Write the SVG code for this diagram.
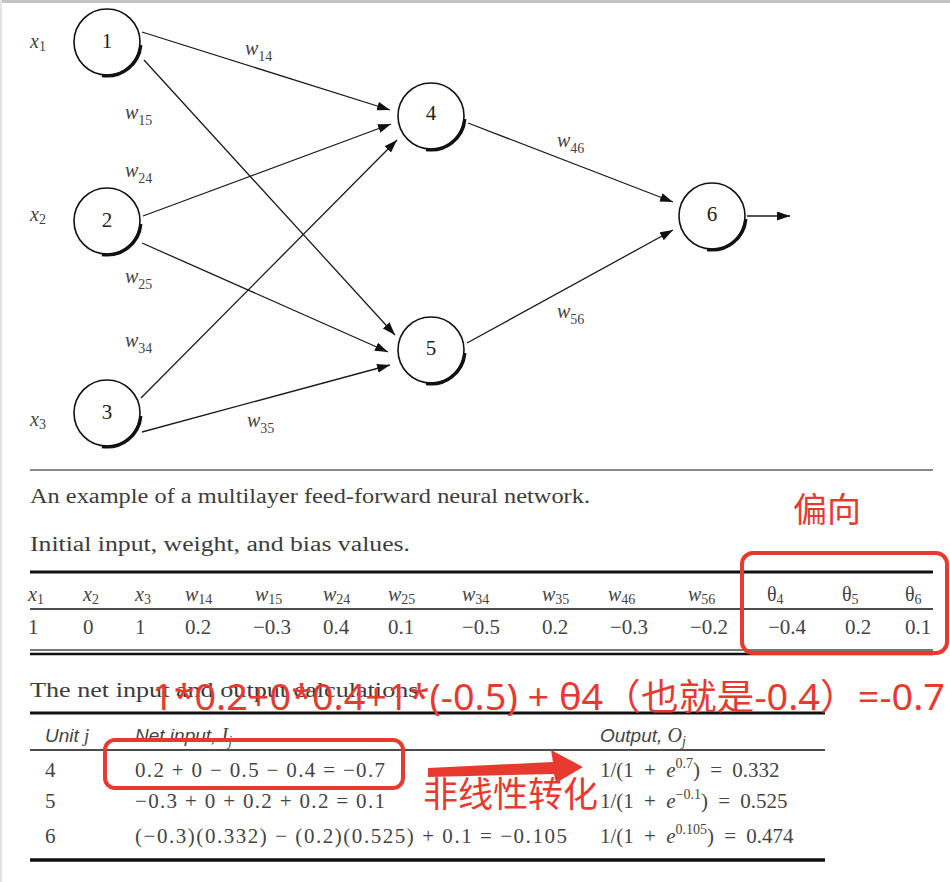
<svg xmlns="http://www.w3.org/2000/svg" width="950" height="882" viewBox="0 0 950 882">
<style>
.lbl{font-family:"Liberation Serif",serif;fill:#444;font-size:20px}
.it{font-style:italic}
.sub{font-size:14px}
.num{font-family:"Liberation Serif",serif;fill:#222;font-size:21px;text-anchor:middle}
.edge{stroke:#1a1a1a;stroke-width:1.3;fill:none}
.cap{font-family:"Liberation Serif",serif;fill:#3c3c3c;font-size:20px}
.tv{font-family:"Liberation Serif",serif;fill:#444;font-size:21px}
.hd{font-family:"Liberation Sans",sans-serif;font-style:italic;fill:#444;font-size:19px}
.red{fill:#e8392f;font-family:"Noto Sans","Noto Sans CJK SC",sans-serif}
.redbox{fill:none;stroke:#e8392f;stroke-width:4}
</style>
<defs>
<marker id="ah" markerUnits="userSpaceOnUse" markerWidth="13" markerHeight="9" refX="13" refY="4.5" orient="auto">
<path d="M0,0 L13,4.5 L0,9 z" fill="#111"/>
</marker>
<g id="ns">
<circle r="33" fill="#fff" stroke="#111" stroke-width="1.6"/>
<path d="M33.9,3 A34 34 0 0 1 -5,33.6" fill="none" stroke="#111" stroke-width="3.2"/>
</g>
</defs>
<rect width="950" height="882" fill="#fff"/>
<rect x="0" y="0" width="950" height="3" fill="#c4c4c4"/>
<rect x="0" y="0" width="2" height="882" fill="#e4e4e4"/>

<g id="connectors">
<line class="edge" x1="142" y1="32" x2="390" y2="110" marker-end="url(#ah)"/>
<line class="edge" x1="144" y1="60" x2="395" y2="335" marker-end="url(#ah)"/>
<line class="edge" x1="143" y1="216" x2="391" y2="124" marker-end="url(#ah)"/>
<line class="edge" x1="142" y1="243" x2="388" y2="352" marker-end="url(#ah)"/>
<line class="edge" x1="141" y1="398" x2="397" y2="140" marker-end="url(#ah)"/>
<line class="edge" x1="142" y1="432" x2="390" y2="365" marker-end="url(#ah)"/>
<line class="edge" x1="468" y1="123" x2="673" y2="202" marker-end="url(#ah)"/>
<line class="edge" x1="467" y1="343" x2="673" y2="230" marker-end="url(#ah)"/>
<line class="edge" x1="747" y1="216" x2="790" y2="216" marker-end="url(#ah)"/>
</g>

<g id="node1"><use href="#ns" transform="translate(107,42)"/><text class="num" x="107" y="48">1</text></g>
<g id="node2"><use href="#ns" transform="translate(107,221)"/><text class="num" x="107" y="227">2</text></g>
<g id="node3"><use href="#ns" transform="translate(107,413)"/><text class="num" x="107" y="419">3</text></g>
<g id="node4"><use href="#ns" transform="translate(431,116)"/><text class="num" x="431" y="120">4</text></g>
<g id="node5"><use href="#ns" transform="translate(431,350)"/><text class="num" x="431" y="355">5</text></g>
<g id="node6"><use href="#ns" transform="translate(712,216)"/><text class="num" x="712" y="221">6</text></g>

<g id="labels">
<text class="lbl" x="30" y="48"><tspan class="it">x</tspan><tspan class="sub" dy="3">1</tspan></text>
<text class="lbl" x="30" y="221"><tspan class="it">x</tspan><tspan class="sub" dy="3">2</tspan></text>
<text class="lbl" x="30" y="426"><tspan class="it">x</tspan><tspan class="sub" dy="3">3</tspan></text>
<text class="lbl" x="245" y="55"><tspan class="it">w</tspan><tspan class="sub" dy="6">14</tspan></text>
<text class="lbl" x="125" y="119"><tspan class="it">w</tspan><tspan class="sub" dy="6">15</tspan></text>
<text class="lbl" x="125" y="177"><tspan class="it">w</tspan><tspan class="sub" dy="6">24</tspan></text>
<text class="lbl" x="125" y="283"><tspan class="it">w</tspan><tspan class="sub" dy="6">25</tspan></text>
<text class="lbl" x="125" y="347"><tspan class="it">w</tspan><tspan class="sub" dy="6">34</tspan></text>
<text class="lbl" x="247" y="427"><tspan class="it">w</tspan><tspan class="sub" dy="6">35</tspan></text>
<text class="lbl" x="557" y="147"><tspan class="it">w</tspan><tspan class="sub" dy="6">46</tspan></text>
<text class="lbl" x="557" y="318"><tspan class="it">w</tspan><tspan class="sub" dy="6">56</tspan></text>
</g>

<line x1="30" y1="470" x2="933" y2="470" stroke="#888" stroke-width="2"/>
<text class="cap" x="30" y="503" textLength="560" lengthAdjust="spacingAndGlyphs">An example of a multilayer feed-forward neural network.</text>
<text class="cap" x="30" y="551" textLength="380" lengthAdjust="spacingAndGlyphs">Initial input, weight, and bias values.</text>

<g id="table1">
<line x1="30" y1="572" x2="933" y2="572" stroke="#111" stroke-width="3"/>
<line x1="30" y1="609" x2="933" y2="609" stroke="#111" stroke-width="1.5"/>
<line x1="30" y1="650" x2="933" y2="650" stroke="#777" stroke-width="2"/>
<line x1="30" y1="654" x2="933" y2="654" stroke="#111" stroke-width="2.5"/>
<g class="lbl">
<text x="28" y="601"><tspan class="it">x</tspan><tspan class="sub" dy="3">1</tspan></text>
<text x="83" y="601"><tspan class="it">x</tspan><tspan class="sub" dy="3">2</tspan></text>
<text x="135" y="601"><tspan class="it">x</tspan><tspan class="sub" dy="3">3</tspan></text>
<text x="185" y="601"><tspan class="it">w</tspan><tspan class="sub" dy="3">14</tspan></text>
<text x="255" y="601"><tspan class="it">w</tspan><tspan class="sub" dy="3">15</tspan></text>
<text x="323" y="601"><tspan class="it">w</tspan><tspan class="sub" dy="3">24</tspan></text>
<text x="388" y="601"><tspan class="it">w</tspan><tspan class="sub" dy="3">25</tspan></text>
<text x="462" y="601"><tspan class="it">w</tspan><tspan class="sub" dy="3">34</tspan></text>
<text x="542" y="601"><tspan class="it">w</tspan><tspan class="sub" dy="3">35</tspan></text>
<text x="608" y="601"><tspan class="it">w</tspan><tspan class="sub" dy="3">46</tspan></text>
<text x="688" y="601"><tspan class="it">w</tspan><tspan class="sub" dy="3">56</tspan></text>
<text x="767" y="601">θ<tspan class="sub" dy="3">4</tspan></text>
<text x="842" y="601">θ<tspan class="sub" dy="3">5</tspan></text>
<text x="905" y="601">θ<tspan class="sub" dy="3">6</tspan></text>
</g>
<g class="tv">
<text x="28" y="634">1</text>
<text x="83" y="634">0</text>
<text x="135" y="634">1</text>
<text x="185" y="634">0.2</text>
<text x="253" y="634">−0.3</text>
<text x="323" y="634">0.4</text>
<text x="388" y="634">0.1</text>
<text x="462" y="634">−0.5</text>
<text x="542" y="634">0.2</text>
<text x="610" y="634">−0.3</text>
<text x="690" y="634">−0.2</text>
<text x="768" y="634">−0.4</text>
<text x="845" y="634">0.2</text>
<text x="905" y="634">0.1</text>
</g>
</g>

<text class="cap" x="30" y="697" textLength="395" lengthAdjust="spacingAndGlyphs">The net input and output calculations.</text>

<g id="table2">
<line x1="30" y1="713" x2="825" y2="713" stroke="#111" stroke-width="3"/>
<line x1="30" y1="750" x2="825" y2="750" stroke="#111" stroke-width="1.5"/>
<line x1="30" y1="860" x2="825" y2="860" stroke="#111" stroke-width="3.5"/>
<text class="hd" x="45" y="742">Unit <tspan font-family="Liberation Serif">j</tspan></text>
<text class="hd" x="135" y="742">Net input, <tspan font-family="Liberation Serif" font-size="20">I</tspan><tspan font-family="Liberation Serif" font-size="14" dy="4">j</tspan></text>
<text class="hd" x="600" y="742">Output, <tspan font-family="Liberation Serif" font-size="20">O</tspan><tspan font-family="Liberation Serif" font-size="14" dy="4">j</tspan></text>
<g class="tv">
<text x="45" y="777">4</text>
<text x="45" y="808">5</text>
<text x="45" y="843">6</text>
<text x="135" y="777" textLength="250" lengthAdjust="spacing">0.2 + 0 − 0.5 − 0.4 = −0.7</text>
<text x="135" y="808" textLength="250" lengthAdjust="spacing">−0.3 + 0 + 0.2 + 0.2 = 0.1</text>
<text x="135" y="843" textLength="432" lengthAdjust="spacing">(−0.3)(0.332) − (0.2)(0.525) + 0.1 = −0.105</text>
<text x="600" y="777" word-spacing="5">1/(1 + <tspan class="it">e</tspan><tspan font-size="14" dy="-9">0.7</tspan><tspan dy="9">) = 0.332</tspan></text>
<text x="600" y="808" word-spacing="5">1/(1 + <tspan class="it">e</tspan><tspan font-size="14" dy="-9">−0.1</tspan><tspan dy="9">) = 0.525</tspan></text>
<text x="600" y="843" word-spacing="5">1/(1 + <tspan class="it">e</tspan><tspan font-size="14" dy="-9">0.105</tspan><tspan dy="9">) = 0.474</tspan></text>
</g>
</g>

<g id="annotations">
<rect class="redbox" x="742" y="553" width="205" height="100" rx="11"/>
<text class="red" x="793" y="522" font-size="34">偏向</text>
<text class="red" x="152" y="710" font-size="36" textLength="793" lengthAdjust="spacingAndGlyphs">1*0.2+0*0.4+1*(-0.5) + θ4（也就是-0.4）=-0.7</text>
<rect class="redbox" x="105" y="740" width="298" height="48" rx="10"/>
<path d="M428,768 L553,762 L551,750 L583,767 L556,783 L554,774 L428,777 Z" fill="#e8392f"/>
<text class="red" x="423" y="807" font-size="35">非线性转化</text>
</g>
</svg>
